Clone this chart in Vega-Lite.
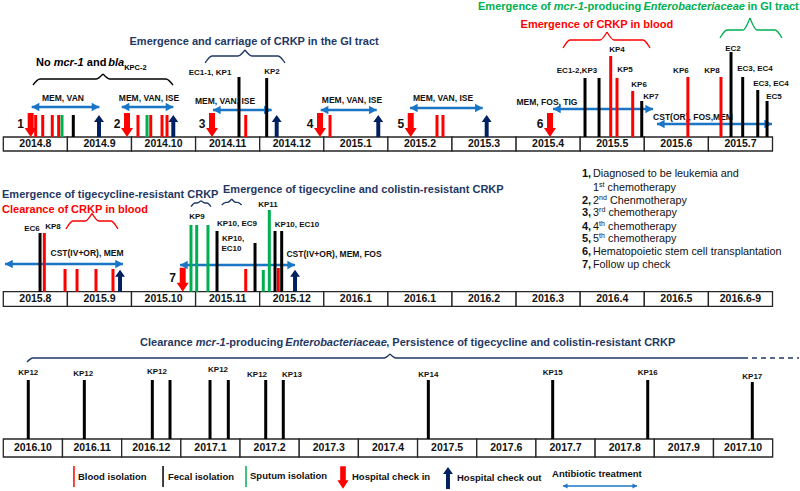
{
"$schema": "https://vega.github.io/schema/vega-lite/v6.json",
"background": "white",
"padding": 0,
"spacing": 0,
"bounds": "flush",
"config": {"view": {"stroke": null}, "font": "Liberation Sans", "text": {"font": "Liberation Sans"}},
"resolve": {"scale": {"x": "independent", "y": "independent", "color": "independent"}},
"datasets": {
"months": [
{"row":1,"t":0,"t2":1,"mid":0.5,"label":"2014.8"},{"row":1,"t":1,"t2":2,"mid":1.5,"label":"2014.9"},{"row":1,"t":2,"t2":3,"mid":2.5,"label":"2014.10"},{"row":1,"t":3,"t2":4,"mid":3.5,"label":"2014.11"},{"row":1,"t":4,"t2":5,"mid":4.5,"label":"2014.12"},{"row":1,"t":5,"t2":6,"mid":5.5,"label":"2015.1"},{"row":1,"t":6,"t2":7,"mid":6.5,"label":"2015.2"},{"row":1,"t":7,"t2":8,"mid":7.5,"label":"2015.3"},{"row":1,"t":8,"t2":9,"mid":8.5,"label":"2015.4"},{"row":1,"t":9,"t2":10,"mid":9.5,"label":"2015.5"},{"row":1,"t":10,"t2":11,"mid":10.5,"label":"2015.6"},{"row":1,"t":11,"t2":12,"mid":11.5,"label":"2015.7"},
{"row":2,"t":0,"t2":1,"mid":0.5,"label":"2015.8"},{"row":2,"t":1,"t2":2,"mid":1.5,"label":"2015.9"},{"row":2,"t":2,"t2":3,"mid":2.5,"label":"2015.10"},{"row":2,"t":3,"t2":4,"mid":3.5,"label":"2015.11"},{"row":2,"t":4,"t2":5,"mid":4.5,"label":"2015.12"},{"row":2,"t":5,"t2":6,"mid":5.5,"label":"2016.1"},{"row":2,"t":6,"t2":7,"mid":6.5,"label":"2016.1"},{"row":2,"t":7,"t2":8,"mid":7.5,"label":"2016.2"},{"row":2,"t":8,"t2":9,"mid":8.5,"label":"2016.3"},{"row":2,"t":9,"t2":10,"mid":9.5,"label":"2016.4"},{"row":2,"t":10,"t2":11,"mid":10.5,"label":"2016.5"},{"row":2,"t":11,"t2":12,"mid":11.5,"label":"2016.6-9"},
{"row":3,"t":0,"t2":1,"mid":0.5,"label":"2016.10"},{"row":3,"t":1,"t2":2,"mid":1.5,"label":"2016.11"},{"row":3,"t":2,"t2":3,"mid":2.5,"label":"2016.12"},{"row":3,"t":3,"t2":4,"mid":3.5,"label":"2017.1"},{"row":3,"t":4,"t2":5,"mid":4.5,"label":"2017.2"},{"row":3,"t":5,"t2":6,"mid":5.5,"label":"2017.3"},{"row":3,"t":6,"t2":7,"mid":6.5,"label":"2017.4"},{"row":3,"t":7,"t2":8,"mid":7.5,"label":"2017.5"},{"row":3,"t":8,"t2":9,"mid":8.5,"label":"2017.6"},{"row":3,"t":9,"t2":10,"mid":9.5,"label":"2017.7"},{"row":3,"t":10,"t2":11,"mid":10.5,"label":"2017.8"},{"row":3,"t":11,"t2":12,"mid":11.5,"label":"2017.9"},{"row":3,"t":12,"t2":13,"mid":12.5,"label":"2017.10"}
],
"isolates": [
{"row":1,"t":0.505,"level":22,"source":"blood"},{"row":1,"t":0.615,"level":22,"source":"blood"},{"row":1,"t":0.764,"level":22,"source":"blood"},{"row":1,"t":0.864,"level":22,"source":"blood"},{"row":1,"t":0.916,"level":22,"source":"sputum"},{"row":1,"t":1.092,"level":22,"source":"fecal"},
{"row":1,"t":2.101,"level":22,"source":"blood"},{"row":1,"t":2.242,"level":22,"source":"sputum"},{"row":1,"t":2.300,"level":22,"source":"blood"},{"row":1,"t":2.476,"level":22,"source":"blood"},{"row":1,"t":2.554,"level":22,"source":"blood"},
{"row":1,"t":3.677,"level":60,"source":"fecal"},{"row":1,"t":3.782,"level":22,"source":"blood"},{"row":1,"t":4.109,"level":59,"source":"fecal"},{"row":1,"t":5.097,"level":22,"source":"blood"},{"row":1,"t":6.766,"level":22,"source":"blood"},{"row":1,"t":6.859,"level":22,"source":"blood"},
{"row":1,"t":9.075,"level":59,"source":"fecal"},{"row":1,"t":9.294,"level":59,"source":"fecal"},{"row":1,"t":9.476,"level":81,"source":"blood"},{"row":1,"t":9.574,"level":59,"source":"blood"},{"row":1,"t":9.819,"level":46,"source":"blood"},{"row":1,"t":9.960,"level":36,"source":"fecal"},
{"row":1,"t":10.680,"level":60,"source":"blood"},{"row":1,"t":11.196,"level":60,"source":"blood"},{"row":1,"t":11.353,"level":85,"source":"fecal"},{"row":1,"t":11.535,"level":60,"source":"fecal"},{"row":1,"t":11.770,"level":47,"source":"fecal"},{"row":1,"t":11.915,"level":36,"source":"fecal"},
{"row":2,"t":0.573,"level":58.7,"source":"fecal"},{"row":2,"t":0.640,"level":58.7,"source":"blood"},{"row":2,"t":0.963,"level":22.7,"source":"blood"},{"row":2,"t":1.150,"level":22.7,"source":"blood"},{"row":2,"t":1.446,"level":22.7,"source":"blood"},{"row":2,"t":1.711,"level":22.7,"source":"blood"},
{"row":2,"t":2.928,"level":66.7,"source":"sputum"},{"row":2,"t":3.017,"level":66.7,"source":"sputum"},{"row":2,"t":3.193,"level":66.7,"source":"sputum"},{"row":2,"t":3.334,"level":60.7,"source":"fecal"},{"row":2,"t":3.782,"level":22.7,"source":"blood"},{"row":2,"t":3.927,"level":48.7,"source":"fecal"},
{"row":2,"t":4.056,"level":21.7,"source":"sputum"},{"row":2,"t":4.150,"level":81.7,"source":"sputum"},{"row":2,"t":4.239,"level":60.7,"source":"fecal"},{"row":2,"t":4.343,"level":60.7,"source":"fecal"},{"row":2,"t":4.290,"level":23.7,"source":"blood"},
{"row":3,"t":0.422,"level":59,"source":"fecal"},{"row":3,"t":1.369,"level":59,"source":"fecal"},{"row":3,"t":2.518,"level":59,"source":"fecal"},{"row":3,"t":2.817,"level":59,"source":"fecal"},{"row":3,"t":3.493,"level":59,"source":"fecal"},{"row":3,"t":3.802,"level":59,"source":"fecal"},{"row":3,"t":4.434,"level":59,"source":"fecal"},{"row":3,"t":4.731,"level":59,"source":"fecal"},{"row":3,"t":7.182,"level":59,"source":"fecal"},{"row":3,"t":9.283,"level":59,"source":"fecal"},{"row":3,"t":10.889,"level":59,"source":"fecal"},{"row":3,"t":12.656,"level":57,"source":"fecal"}
],
"isoLabels": [
{"row":1,"t":3.225,"level":64,"text":"EC1-1, KP1"},{"row":1,"t":4.192,"level":65,"text":"KP2"},{"row":1,"t":8.950,"level":66,"text":"EC1-2,KP3"},{"row":1,"t":9.574,"level":87,"text":"KP4"},{"row":1,"t":9.699,"level":67,"text":"KP5"},{"row":1,"t":9.918,"level":52,"text":"KP6"},{"row":1,"t":10.104,"level":40,"text":"KP7"},{"row":1,"t":10.571,"level":66,"text":"KP6"},{"row":1,"t":11.056,"level":66,"text":"KP8"},{"row":1,"t":11.384,"level":88,"text":"EC2"},{"row":1,"t":11.727,"level":68,"text":"EC3, EC4"},{"row":1,"t":11.976,"level":53,"text":"EC3, EC4"},{"row":1,"t":12.023,"level":40,"text":"EC5"},
{"row":2,"t":0.448,"level":62.7,"text":"EC6"},{"row":2,"t":0.775,"level":64.7,"text":"KP8"},{"row":2,"t":3.022,"level":74.7,"text":"KP9"},{"row":2,"t":3.646,"level":67.7,"text":"KP10, EC9"},{"row":2,"t":3.584,"level":52.7,"text":"KP10,"},{"row":2,"t":3.560,"level":42.7,"text":"EC10"},{"row":2,"t":4.130,"level":86.7,"text":"KP11"},{"row":2,"t":4.582,"level":66.7,"text":"KP10, EC10"},
{"row":3,"t":0.422,"level":66,"text":"KP12"},{"row":3,"t":1.350,"level":65,"text":"KP12"},{"row":3,"t":2.597,"level":67,"text":"KP12"},{"row":3,"t":3.628,"level":69,"text":"KP12"},{"row":3,"t":4.287,"level":64,"text":"KP12"},{"row":3,"t":4.878,"level":64,"text":"KP13"},{"row":3,"t":7.182,"level":64,"text":"KP14"},{"row":3,"t":9.283,"level":66,"text":"KP15"},{"row":3,"t":10.889,"level":66,"text":"KP16"},{"row":3,"t":12.656,"level":62,"text":"KP17"}
],
"checkin": [
{"row":1,"t":0.427,"no":"1"},{"row":1,"t":1.930,"no":"2"},{"row":1,"t":3.256,"no":"3"},{"row":1,"t":4.941,"no":"4"},{"row":1,"t":6.356,"no":"5"},{"row":1,"t":8.529,"no":"6"},{"row":2,"t":2.799,"no":"7"}
],
"checkout": [
{"row":1,"t":1.493},{"row":1,"t":2.652},{"row":1,"t":4.265},{"row":1,"t":5.850},{"row":1,"t":7.541},{"row":2,"t":1.821},{"row":2,"t":4.551}
],
"treatments": [
{"row":1,"t":0.443,"t2":1.498,"level":30,"drugs":"MEM, VAN","mid":0.931,"labelLevel":39},
{"row":1,"t":1.847,"t2":2.652,"level":30,"drugs":"MEM, VAN, ISE","mid":2.273,"labelLevel":39},
{"row":1,"t":3.271,"t2":4.187,"level":27,"drugs":"MEM, VAN, ISE","mid":3.459,"labelLevel":36},
{"row":1,"t":4.952,"t2":5.825,"level":27,"drugs":"MEM, VAN, ISE","mid":5.440,"labelLevel":37},
{"row":1,"t":6.345,"t2":7.479,"level":29,"drugs":"MEM, VAN, ISE","mid":6.860,"labelLevel":39},
{"row":1,"t":8.576,"t2":10.136,"level":28,"drugs":"MEM, FOS, TIG","mid":8.482,"labelLevel":35},
{"row":1,"t":10.198,"t2":11.992,"level":13,"drugs":"CST(OR), FOS,MEM","mid":10.760,"labelLevel":20},
{"row":2,"t":0.027,"t2":1.867,"level":27.7,"drugs":"CST(IV+OR), MEM","mid":1.306,"labelLevel":38.7},
{"row":2,"t":2.757,"t2":4.551,"level":26.7,"drugs":"CST(IV+OR), MEM, FOS","mid":5.160,"labelLevel":37.7}
],
"braces": [
{"row":1,"seg":"b1L","topic":"baseline","t":0.463,"level":52},{"row":1,"seg":"b1L","topic":"baseline","t":0.572,"level":58},{"row":1,"seg":"b1L","topic":"baseline","t":1.446,"level":58},{"row":1,"seg":"b1L","topic":"baseline","t":1.555,"level":63},
{"row":1,"seg":"b1R","topic":"baseline","t":1.555,"level":63},{"row":1,"seg":"b1R","topic":"baseline","t":1.664,"level":58},{"row":1,"seg":"b1R","topic":"baseline","t":2.538,"level":58},{"row":1,"seg":"b1R","topic":"baseline","t":2.647,"level":52},
{"row":1,"seg":"b2L","topic":"crkp","t":3.147,"level":74},{"row":1,"seg":"b2L","topic":"crkp","t":3.256,"level":81},{"row":1,"seg":"b2L","topic":"crkp","t":3.661,"level":81},{"row":1,"seg":"b2L","topic":"crkp","t":3.770,"level":87},
{"row":1,"seg":"b2R","topic":"crkp","t":3.770,"level":87},{"row":1,"seg":"b2R","topic":"crkp","t":3.879,"level":81},{"row":1,"seg":"b2R","topic":"crkp","t":4.286,"level":81},{"row":1,"seg":"b2R","topic":"crkp","t":4.395,"level":74},
{"row":1,"seg":"b3L","topic":"bloodstream","t":8.732,"level":89},{"row":1,"seg":"b3L","topic":"bloodstream","t":8.841,"level":97},{"row":1,"seg":"b3L","topic":"bloodstream","t":9.309,"level":97},{"row":1,"seg":"b3L","topic":"bloodstream","t":9.418,"level":105},
{"row":1,"seg":"b3R","topic":"bloodstream","t":9.418,"level":105},{"row":1,"seg":"b3R","topic":"bloodstream","t":9.527,"level":97},{"row":1,"seg":"b3R","topic":"bloodstream","t":9.980,"level":97},{"row":1,"seg":"b3R","topic":"bloodstream","t":10.089,"level":89},
{"row":1,"seg":"b4L","topic":"mcr","t":11.181,"level":99},{"row":1,"seg":"b4L","topic":"mcr","t":11.290,"level":107},{"row":1,"seg":"b4L","topic":"mcr","t":11.540,"level":107},{"row":1,"seg":"b4L","topic":"mcr","t":11.649,"level":119},
{"row":1,"seg":"b4R","topic":"mcr","t":11.649,"level":119},{"row":1,"seg":"b4R","topic":"mcr","t":11.758,"level":107},{"row":1,"seg":"b4R","topic":"mcr","t":12.039,"level":107},{"row":1,"seg":"b4R","topic":"mcr","t":12.148,"level":99},
{"row":2,"seg":"b5L","topic":"bloodstream","t":0.978,"level":62.7},{"row":2,"seg":"b5L","topic":"bloodstream","t":1.087,"level":70.7},{"row":2,"seg":"b5L","topic":"bloodstream","t":1.275,"level":70.7},{"row":2,"seg":"b5L","topic":"bloodstream","t":1.384,"level":78.4},
{"row":2,"seg":"b5R","topic":"bloodstream","t":1.384,"level":78.4},{"row":2,"seg":"b5R","topic":"bloodstream","t":1.493,"level":70.7},{"row":2,"seg":"b5R","topic":"bloodstream","t":1.680,"level":70.7},{"row":2,"seg":"b5R","topic":"bloodstream","t":1.789,"level":62.7},
{"row":2,"seg":"b6L","topic":"crkp","t":2.928,"level":85},{"row":2,"seg":"b6L","topic":"crkp","t":2.990,"level":88.7},{"row":2,"seg":"b6L","topic":"crkp","t":3.022,"level":88.7},{"row":2,"seg":"b6L","topic":"crkp","t":3.084,"level":91},
{"row":2,"seg":"b6R","topic":"crkp","t":3.084,"level":91},{"row":2,"seg":"b6R","topic":"crkp","t":3.146,"level":88.7},{"row":2,"seg":"b6R","topic":"crkp","t":3.178,"level":88.7},{"row":2,"seg":"b6R","topic":"crkp","t":3.240,"level":85},
{"row":2,"seg":"b7L","topic":"crkp","t":3.407,"level":86.7},{"row":2,"seg":"b7L","topic":"crkp","t":3.469,"level":89.4},{"row":2,"seg":"b7L","topic":"crkp","t":3.501,"level":89.4},{"row":2,"seg":"b7L","topic":"crkp","t":3.563,"level":92.7},
{"row":2,"seg":"b7R","topic":"crkp","t":3.563,"level":92.7},{"row":2,"seg":"b7R","topic":"crkp","t":3.625,"level":89.4},{"row":2,"seg":"b7R","topic":"crkp","t":3.657,"level":89.4},{"row":2,"seg":"b7R","topic":"crkp","t":3.719,"level":86.7},
{"row":3,"seg":"b8L","topic":"crkp","t":0.400,"level":77},{"row":3,"seg":"b8L","topic":"crkp","t":0.501,"level":81},{"row":3,"seg":"b8L","topic":"crkp","t":6.433,"level":81},{"row":3,"seg":"b8L","topic":"crkp","t":6.534,"level":85},
{"row":3,"seg":"b8R","topic":"crkp","t":6.534,"level":85},{"row":3,"seg":"b8R","topic":"crkp","t":6.635,"level":81},{"row":3,"seg":"b8R","topic":"crkp","t":12.499,"level":81}
],
"braceTail": [{"row":3,"t":12.499,"t2":13.445,"level":81,"topic":"crkp"}],
"titles": [
{"row":1,"t":0.510,"level":74,"text":"No","topic":"baseline"},
{"row":1,"t":1.303,"level":74,"text":"and","topic":"baseline"},
{"row":1,"t":1.969,"level":95,"text":"Emergence and carriage of CRKP in the GI tract","topic":"crkp"},
{"row":1,"t":8.070,"level":112,"text":"Emergence of CRKP in blood","topic":"bloodstream"},
{"row":1,"t":7.406,"level":130,"text":"Emergence of","topic":"mcr"},
{"row":1,"t":9.056,"level":130,"text":"-producing","topic":"mcr"},
{"row":1,"t":11.609,"level":130,"text":"in GI tract","topic":"mcr"},
{"row":2,"t":-0.020,"level":96.7,"text":"Emergence of tigecycline-resistant CRKP","topic":"crkp"},
{"row":2,"t":-0.020,"level":81.7,"text":"Clearance of CRKP in blood","topic":"bloodstream"},
{"row":2,"t":3.428,"level":101.7,"text":"Emergence of tigecycline and colistin-resistant CRKP","topic":"crkp"},
{"row":3,"t":2.310,"level":96,"text":"Clearance","topic":"crkp"},
{"row":3,"t":3.758,"level":96,"text":"-producing","topic":"crkp"},
{"row":3,"t":6.470,"level":96,"text":", Persistence of tigecycline and colistin-resistant CRKP","topic":"crkp"}
],
"titlesItalic": [
{"row":1,"t":0.786,"level":74,"text":"mcr-1","topic":"baseline"},
{"row":1,"t":1.636,"level":74,"text":"bla","topic":"baseline"},
{"row":1,"t":8.588,"level":130,"text":"mcr-1","topic":"mcr"},
{"row":1,"t":9.986,"level":130,"text":"Enterobacteriaceae","topic":"mcr"},
{"row":3,"t":3.251,"level":96,"text":"mcr-1","topic":"crkp"},
{"row":3,"t":4.765,"level":96,"text":"Enterobacteriaceae","topic":"crkp"}
],
"subscripts": [{"row":1,"t":1.885,"level":69.5,"text":"KPC-2","topic":"baseline"}],
"listNums": [
{"t":9.028,"level":117.7,"text":"1,"},{"t":9.028,"level":90.7,"text":"2,"},{"t":9.028,"level":78.7,"text":"3,"},{"t":9.028,"level":64.7,"text":"4,"},{"t":9.028,"level":52.7,"text":"5,"},{"t":9.028,"level":39.7,"text":"6,"},{"t":9.028,"level":26.7,"text":"7,"}
],
"listText": [
{"t":9.2,"level":117.7,"text":"Diagnosed to be leukemia and"},
{"t":9.2,"level":103.7,"text":"1"},{"t":9.427,"level":103.7,"text":"chemotherapy"},
{"t":9.2,"level":90.7,"text":"2"},{"t":9.465,"level":90.7,"text":"Chenmotherapy"},
{"t":9.2,"level":78.7,"text":"3"},{"t":9.44,"level":78.7,"text":"chemotherapy"},
{"t":9.2,"level":64.7,"text":"4"},{"t":9.434,"level":64.7,"text":"chemotherapy"},
{"t":9.2,"level":52.7,"text":"5"},{"t":9.434,"level":52.7,"text":"chemotherapy"},
{"t":9.2,"level":39.7,"text":"Hematopoietic stem cell transplantation"},
{"t":9.2,"level":26.7,"text":"Follow up check"}
],
"listSup": [
{"t":9.295,"level":107.2,"text":"st"},{"t":9.295,"level":94.2,"text":"nd"},{"t":9.295,"level":82.2,"text":"rd"},{"t":9.295,"level":68.2,"text":"th"},{"t":9.295,"level":56.2,"text":"th"}
],
"legendLines": [{"t":1.194,"source":"blood"},{"t":2.699,"source":"fecal"},{"t":4.101,"source":"sputum"}],
"legendText": [
{"t":1.262,"level":-38,"text":"Blood isolation"},{"t":2.783,"level":-38,"text":"Fecal isolation"},{"t":4.169,"level":-37,"text":"Sputum isolation"},{"t":5.892,"level":-38,"text":"Hospital check in"},{"t":7.666,"level":-39,"text":"Hospital check out"},{"t":9.272,"level":-35,"text":"Antibiotic treatment"}
],
"legendIn": [{"t":5.740,"level":-38.5}],
"legendOut": [{"t":7.514,"level":-39}],
"legendTreat": [{"t":9.458,"t2":10.708,"level":-47}]
},
"vconcat": [
{
"width": 800, "height": 152,
"layer": [
{"data":{"name":"months"},"transform":[{"filter":"datum.row==1"}],"mark":{"type":"rect","fill":"white","stroke":"#262626","strokeWidth":1.3},
 "encoding":{"x":{"field":"t","type":"quantitative","scale":{"domain":[-0.0515,12.429],"nice":false,"zero":false},"axis":null},"x2":{"field":"t2"},"y":{"datum":0,"type":"quantitative","scale":{"domain":[-15,137],"nice":false,"zero":false},"axis":null},"y2":{"datum":-14}}},
{"data":{"name":"months"},"transform":[{"filter":"datum.row==1"}],"mark":{"type":"text","fontWeight":"bold","fontSize":10.5,"color":"#111"},
 "encoding":{"x":{"field":"mid","type":"quantitative","scale":{"domain":[-0.0515,12.429],"nice":false,"zero":false},"axis":null},"y":{"datum":-7,"type":"quantitative","scale":{"domain":[-15,137],"nice":false,"zero":false},"axis":null},"text":{"field":"label"}}},
{
"encoding": {
 "x": {"field":"t","type":"quantitative","scale":{"domain":[-0.0515,12.429],"nice":false,"zero":false},"axis":null},
 "y": {"field":"level","type":"quantitative","scale":{"domain":[-15,137],"nice":false,"zero":false},"axis":null}
},
"layer": [
{"data":{"name":"braces"},"transform":[{"filter":"datum.row==1"}],"mark":{"type":"line","interpolate":"monotone","strokeWidth":1.3},
 "encoding":{"detail":{"field":"seg"},"color":{"field":"topic","type":"nominal","scale":{"domain":["blood","fecal","sputum","baseline","crkp","bloodstream","mcr"],"range":["#ff0000","#000000","#00b050","#000000","#1f3864","#ff0000","#00b050"]},"legend":null}}},
{"data":{"name":"treatments"},"transform":[{"filter":"datum.row==1"}],"mark":{"type":"rule","color":"#1a75c4","strokeWidth":2.6},"encoding":{"x2":{"field":"t2"}}},
{"data":{"name":"treatments"},"transform":[{"filter":"datum.row==1"}],"mark":{"type":"point","shape":"M0,0L1.8,-1L1.8,1Z","filled":true,"opacity":1,"size":72,"color":"#1a75c4","strokeWidth":0}},
{"data":{"name":"treatments"},"transform":[{"filter":"datum.row==1"}],"mark":{"type":"point","shape":"M0,0L-1.8,-1L-1.8,1Z","filled":true,"opacity":1,"size":72,"color":"#1a75c4","strokeWidth":0},
 "encoding":{"x":{"field":"t2","type":"quantitative","scale":{"domain":[-0.0515,12.429],"nice":false,"zero":false},"axis":null}}},
{"data":{"name":"treatments"},"transform":[{"filter":"datum.row==1"}],"mark":{"type":"text","fontWeight":"bold","fontSize":8.5,"color":"#111"},
 "encoding":{"x":{"field":"mid","type":"quantitative","scale":{"domain":[-0.0515,12.429],"nice":false,"zero":false},"axis":null},"y":{"field":"labelLevel","type":"quantitative","scale":{"domain":[-15,137],"nice":false,"zero":false},"axis":null},"text":{"field":"drugs"}}},
{"data":{"name":"isolates"},"transform":[{"filter":"datum.row==1"}],"mark":{"type":"rule","strokeWidth":3},
 "encoding":{"y2":{"datum":0},"color":{"field":"source","type":"nominal","scale":{"domain":["blood","fecal","sputum","baseline","crkp","bloodstream","mcr"],"range":["#ff0000","#000000","#00b050","#000000","#1f3864","#ff0000","#00b050"]},"legend":null}}},
{"data":{"name":"isoLabels"},"transform":[{"filter":"datum.row==1"}],"mark":{"type":"text","fontWeight":"bold","fontSize":8,"color":"#111"},"encoding":{"text":{"field":"text"}}},
{"data":{"name":"titles"},"transform":[{"filter":"datum.row==1"}],"mark":{"type":"text","fontWeight":"bold","fontSize":11,"align":"left"},
 "encoding":{"text":{"field":"text"},"color":{"field":"topic","type":"nominal","scale":{"domain":["blood","fecal","sputum","baseline","crkp","bloodstream","mcr"],"range":["#ff0000","#000000","#00b050","#000000","#1f3864","#ff0000","#00b050"]},"legend":null}}},
{"data":{"name":"titlesItalic"},"transform":[{"filter":"datum.row==1"}],"mark":{"type":"text","fontWeight":"bold","fontStyle":"italic","fontSize":11,"align":"left"},
 "encoding":{"text":{"field":"text"},"color":{"field":"topic","type":"nominal","scale":{"domain":["blood","fecal","sputum","baseline","crkp","bloodstream","mcr"],"range":["#ff0000","#000000","#00b050","#000000","#1f3864","#ff0000","#00b050"]},"legend":null}}},
{"data":{"name":"subscripts"},"mark":{"type":"text","fontWeight":"bold","fontSize":7.5,"align":"left","color":"#000"},"encoding":{"text":{"field":"text"}}}
]
},
{"data":{"name":"checkin"},"transform":[{"filter":"datum.row==1"}],"mark":{"type":"point","shape":"M-0.25,-1L0.25,-1L0.25,0.25L0.5,0.25L0,1L-0.5,0.25L-0.25,0.25Z","filled":true,"opacity":1,"size":576,"color":"#ff0000","strokeWidth":0},
 "encoding":{"x":{"field":"t","type":"quantitative","scale":{"domain":[-0.0515,12.429],"nice":false,"zero":false},"axis":null},"y":{"datum":12,"type":"quantitative","scale":{"domain":[-15,137],"nice":false,"zero":false},"axis":null}}},
{"data":{"name":"checkin"},"transform":[{"filter":"datum.row==1"}],"mark":{"type":"text","fontWeight":"bold","fontSize":12,"dx":-10,"color":"#111"},
 "encoding":{"x":{"field":"t","type":"quantitative","scale":{"domain":[-0.0515,12.429],"nice":false,"zero":false},"axis":null},"y":{"datum":13,"type":"quantitative","scale":{"domain":[-15,137],"nice":false,"zero":false},"axis":null},"text":{"field":"no"}}},
{"data":{"name":"checkout"},"transform":[{"filter":"datum.row==1"}],"mark":{"type":"point","shape":"M-0.18,1L0.18,1L0.18,-0.36L0.45,-0.36L0,-1L-0.45,-0.36L-0.18,-0.36Z","filled":true,"opacity":1,"size":484,"color":"#002060","strokeWidth":0},
 "encoding":{"x":{"field":"t","type":"quantitative","scale":{"domain":[-0.0515,12.429],"nice":false,"zero":false},"axis":null},"y":{"datum":11,"type":"quantitative","scale":{"domain":[-15,137],"nice":false,"zero":false},"axis":null}}}
]
},
{
"width": 800, "height": 155,
"layer": [
{"data":{"name":"months"},"transform":[{"filter":"datum.row==2"}],"mark":{"type":"rect","fill":"white","stroke":"#262626","strokeWidth":1.3},
 "encoding":{"x":{"field":"t","type":"quantitative","scale":{"domain":[-0.0515,12.429],"nice":false,"zero":false},"axis":null},"x2":{"field":"t2"},"y":{"datum":0,"type":"quantitative","scale":{"domain":[-15.3,139.7],"nice":false,"zero":false},"axis":null},"y2":{"datum":-14.7}}},
{"data":{"name":"months"},"transform":[{"filter":"datum.row==2"}],"mark":{"type":"text","fontWeight":"bold","fontSize":10.5,"color":"#111"},
 "encoding":{"x":{"field":"mid","type":"quantitative","scale":{"domain":[-0.0515,12.429],"nice":false,"zero":false},"axis":null},"y":{"datum":-7.3,"type":"quantitative","scale":{"domain":[-15.3,139.7],"nice":false,"zero":false},"axis":null},"text":{"field":"label"}}},
{
"encoding": {
 "x": {"field":"t","type":"quantitative","scale":{"domain":[-0.0515,12.429],"nice":false,"zero":false},"axis":null},
 "y": {"field":"level","type":"quantitative","scale":{"domain":[-15.3,139.7],"nice":false,"zero":false},"axis":null}
},
"layer": [
{"data":{"name":"braces"},"transform":[{"filter":"datum.row==2"}],"mark":{"type":"line","interpolate":"monotone","strokeWidth":1.3},
 "encoding":{"detail":{"field":"seg"},"color":{"field":"topic","type":"nominal","scale":{"domain":["blood","fecal","sputum","baseline","crkp","bloodstream","mcr"],"range":["#ff0000","#000000","#00b050","#000000","#1f3864","#ff0000","#00b050"]},"legend":null}}},
{"data":{"name":"treatments"},"transform":[{"filter":"datum.row==2"}],"mark":{"type":"rule","color":"#1a75c4","strokeWidth":2.6},"encoding":{"x2":{"field":"t2"}}},
{"data":{"name":"treatments"},"transform":[{"filter":"datum.row==2"}],"mark":{"type":"point","shape":"M0,0L1.8,-1L1.8,1Z","filled":true,"opacity":1,"size":72,"color":"#1a75c4","strokeWidth":0}},
{"data":{"name":"treatments"},"transform":[{"filter":"datum.row==2"}],"mark":{"type":"point","shape":"M0,0L-1.8,-1L-1.8,1Z","filled":true,"opacity":1,"size":72,"color":"#1a75c4","strokeWidth":0},
 "encoding":{"x":{"field":"t2","type":"quantitative","scale":{"domain":[-0.0515,12.429],"nice":false,"zero":false},"axis":null}}},
{"data":{"name":"treatments"},"transform":[{"filter":"datum.row==2"}],"mark":{"type":"text","fontWeight":"bold","fontSize":8.5,"color":"#111"},
 "encoding":{"x":{"field":"mid","type":"quantitative","scale":{"domain":[-0.0515,12.429],"nice":false,"zero":false},"axis":null},"y":{"field":"labelLevel","type":"quantitative","scale":{"domain":[-15.3,139.7],"nice":false,"zero":false},"axis":null},"text":{"field":"drugs"}}},
{"data":{"name":"isolates"},"transform":[{"filter":"datum.row==2"}],"mark":{"type":"rule","strokeWidth":3},
 "encoding":{"y2":{"datum":0},"color":{"field":"source","type":"nominal","scale":{"domain":["blood","fecal","sputum","baseline","crkp","bloodstream","mcr"],"range":["#ff0000","#000000","#00b050","#000000","#1f3864","#ff0000","#00b050"]},"legend":null}}},
{"data":{"name":"isoLabels"},"transform":[{"filter":"datum.row==2"}],"mark":{"type":"text","fontWeight":"bold","fontSize":8,"color":"#111"},"encoding":{"text":{"field":"text"}}},
{"data":{"name":"titles"},"transform":[{"filter":"datum.row==2"}],"mark":{"type":"text","fontWeight":"bold","fontSize":11,"align":"left"},
 "encoding":{"text":{"field":"text"},"color":{"field":"topic","type":"nominal","scale":{"domain":["blood","fecal","sputum","baseline","crkp","bloodstream","mcr"],"range":["#ff0000","#000000","#00b050","#000000","#1f3864","#ff0000","#00b050"]},"legend":null}}},
{"data":{"name":"listNums"},"mark":{"type":"text","fontWeight":"bold","fontSize":11,"align":"left","color":"#111"},"encoding":{"text":{"field":"text"}}},
{"data":{"name":"listText"},"mark":{"type":"text","fontSize":10.8,"align":"left","color":"#111"},"encoding":{"text":{"field":"text"}}},
{"data":{"name":"listSup"},"mark":{"type":"text","fontSize":7,"align":"left","color":"#111"},"encoding":{"text":{"field":"text"}}}
]
},
{"data":{"name":"checkin"},"transform":[{"filter":"datum.row==2"}],"mark":{"type":"point","shape":"M-0.25,-1L0.25,-1L0.25,0.25L0.5,0.25L0,1L-0.5,0.25L-0.25,0.25Z","filled":true,"opacity":1,"size":576,"color":"#ff0000","strokeWidth":0},
 "encoding":{"x":{"field":"t","type":"quantitative","scale":{"domain":[-0.0515,12.429],"nice":false,"zero":false},"axis":null},"y":{"datum":12,"type":"quantitative","scale":{"domain":[-15.3,139.7],"nice":false,"zero":false},"axis":null}}},
{"data":{"name":"checkin"},"transform":[{"filter":"datum.row==2"}],"mark":{"type":"text","fontWeight":"bold","fontSize":12,"dx":-10,"color":"#111"},
 "encoding":{"x":{"field":"t","type":"quantitative","scale":{"domain":[-0.0515,12.429],"nice":false,"zero":false},"axis":null},"y":{"datum":13.7,"type":"quantitative","scale":{"domain":[-15.3,139.7],"nice":false,"zero":false},"axis":null},"text":{"field":"no"}}},
{"data":{"name":"checkout"},"transform":[{"filter":"datum.row==2"}],"mark":{"type":"point","shape":"M-0.18,1L0.18,1L0.18,-0.36L0.45,-0.36L0,-1L-0.45,-0.36L-0.18,-0.36Z","filled":true,"opacity":1,"size":484,"color":"#002060","strokeWidth":0},
 "encoding":{"x":{"field":"t","type":"quantitative","scale":{"domain":[-0.0515,12.429],"nice":false,"zero":false},"axis":null},"y":{"datum":11,"type":"quantitative","scale":{"domain":[-15.3,139.7],"nice":false,"zero":false},"axis":null}}}
]
},
{
"width": 800, "height": 184,
"layer": [
{"data":{"name":"months"},"transform":[{"filter":"datum.row==3"}],"mark":{"type":"rect","fill":"white","stroke":"#262626","strokeWidth":1.3},
 "encoding":{"x":{"field":"t","type":"quantitative","scale":{"domain":[-0.0558,13.462],"nice":false,"zero":false},"axis":null},"x2":{"field":"t2"},"y":{"datum":0,"type":"quantitative","scale":{"domain":[-52,132],"nice":false,"zero":false},"axis":null},"y2":{"datum":-18}}},
{"data":{"name":"months"},"transform":[{"filter":"datum.row==3"}],"mark":{"type":"text","fontWeight":"bold","fontSize":10.5,"color":"#111"},
 "encoding":{"x":{"field":"mid","type":"quantitative","scale":{"domain":[-0.0558,13.462],"nice":false,"zero":false},"axis":null},"y":{"datum":-9,"type":"quantitative","scale":{"domain":[-52,132],"nice":false,"zero":false},"axis":null},"text":{"field":"label"}}},
{"data":{"name":"legendLines"},"mark":{"type":"rule","strokeWidth":1.5},
 "encoding":{"x":{"field":"t","type":"quantitative","scale":{"domain":[-0.0558,13.462],"nice":false,"zero":false},"axis":null},"y":{"datum":-27,"type":"quantitative","scale":{"domain":[-52,132],"nice":false,"zero":false},"axis":null},"y2":{"datum":-48},"color":{"field":"source","type":"nominal","scale":{"domain":["blood","fecal","sputum","baseline","crkp","bloodstream","mcr"],"range":["#ff0000","#000000","#00b050","#000000","#1f3864","#ff0000","#00b050"]},"legend":null}}},
{
"encoding": {
 "x": {"field":"t","type":"quantitative","scale":{"domain":[-0.0558,13.462],"nice":false,"zero":false},"axis":null},
 "y": {"field":"level","type":"quantitative","scale":{"domain":[-52,132],"nice":false,"zero":false},"axis":null}
},
"layer": [
{"data":{"name":"braces"},"transform":[{"filter":"datum.row==3"}],"mark":{"type":"line","interpolate":"monotone","strokeWidth":1.3},
 "encoding":{"detail":{"field":"seg"},"color":{"field":"topic","type":"nominal","scale":{"domain":["blood","fecal","sputum","baseline","crkp","bloodstream","mcr"],"range":["#ff0000","#000000","#00b050","#000000","#1f3864","#ff0000","#00b050"]},"legend":null}}},
{"data":{"name":"braceTail"},"mark":{"type":"rule","strokeWidth":1.3,"strokeDash":[5,4]},
 "encoding":{"x2":{"field":"t2"},"color":{"field":"topic","type":"nominal","scale":{"domain":["blood","fecal","sputum","baseline","crkp","bloodstream","mcr"],"range":["#ff0000","#000000","#00b050","#000000","#1f3864","#ff0000","#00b050"]},"legend":null}}},
{"data":{"name":"isolates"},"transform":[{"filter":"datum.row==3"}],"mark":{"type":"rule","strokeWidth":3},
 "encoding":{"y2":{"datum":0},"color":{"field":"source","type":"nominal","scale":{"domain":["blood","fecal","sputum","baseline","crkp","bloodstream","mcr"],"range":["#ff0000","#000000","#00b050","#000000","#1f3864","#ff0000","#00b050"]},"legend":null}}},
{"data":{"name":"isoLabels"},"transform":[{"filter":"datum.row==3"}],"mark":{"type":"text","fontWeight":"bold","fontSize":8,"color":"#111"},"encoding":{"text":{"field":"text"}}},
{"data":{"name":"titles"},"transform":[{"filter":"datum.row==3"}],"mark":{"type":"text","fontWeight":"bold","fontSize":11,"align":"left"},
 "encoding":{"text":{"field":"text"},"color":{"field":"topic","type":"nominal","scale":{"domain":["blood","fecal","sputum","baseline","crkp","bloodstream","mcr"],"range":["#ff0000","#000000","#00b050","#000000","#1f3864","#ff0000","#00b050"]},"legend":null}}},
{"data":{"name":"titlesItalic"},"transform":[{"filter":"datum.row==3"}],"mark":{"type":"text","fontWeight":"bold","fontStyle":"italic","fontSize":11,"align":"left"},
 "encoding":{"text":{"field":"text"},"color":{"field":"topic","type":"nominal","scale":{"domain":["blood","fecal","sputum","baseline","crkp","bloodstream","mcr"],"range":["#ff0000","#000000","#00b050","#000000","#1f3864","#ff0000","#00b050"]},"legend":null}}},
{"data":{"name":"legendText"},"mark":{"type":"text","fontWeight":"bold","fontSize":9.5,"align":"left","color":"#111"},"encoding":{"text":{"field":"text"}}},
{"data":{"name":"legendIn"},"mark":{"type":"point","shape":"M-0.25,-1L0.25,-1L0.25,0.25L0.5,0.25L0,1L-0.5,0.25L-0.25,0.25Z","filled":true,"opacity":1,"size":506,"color":"#ff0000","strokeWidth":0}},
{"data":{"name":"legendOut"},"mark":{"type":"point","shape":"M-0.18,1L0.18,1L0.18,-0.36L0.45,-0.36L0,-1L-0.45,-0.36L-0.18,-0.36Z","filled":true,"opacity":1,"size":484,"color":"#002060","strokeWidth":0}},
{"data":{"name":"legendTreat"},"mark":{"type":"rule","color":"#1a75c4","strokeWidth":1.5},"encoding":{"x2":{"field":"t2"}}},
{"data":{"name":"legendTreat"},"mark":{"type":"point","shape":"M0,0L1.8,-1L1.8,1Z","filled":true,"opacity":1,"size":25,"color":"#1a75c4","strokeWidth":0}},
{"data":{"name":"legendTreat"},"mark":{"type":"point","shape":"M0,0L-1.8,-1L-1.8,1Z","filled":true,"opacity":1,"size":25,"color":"#1a75c4","strokeWidth":0},
 "encoding":{"x":{"field":"t2","type":"quantitative","scale":{"domain":[-0.0558,13.462],"nice":false,"zero":false},"axis":null}}}
]
}
]
}
]
}
